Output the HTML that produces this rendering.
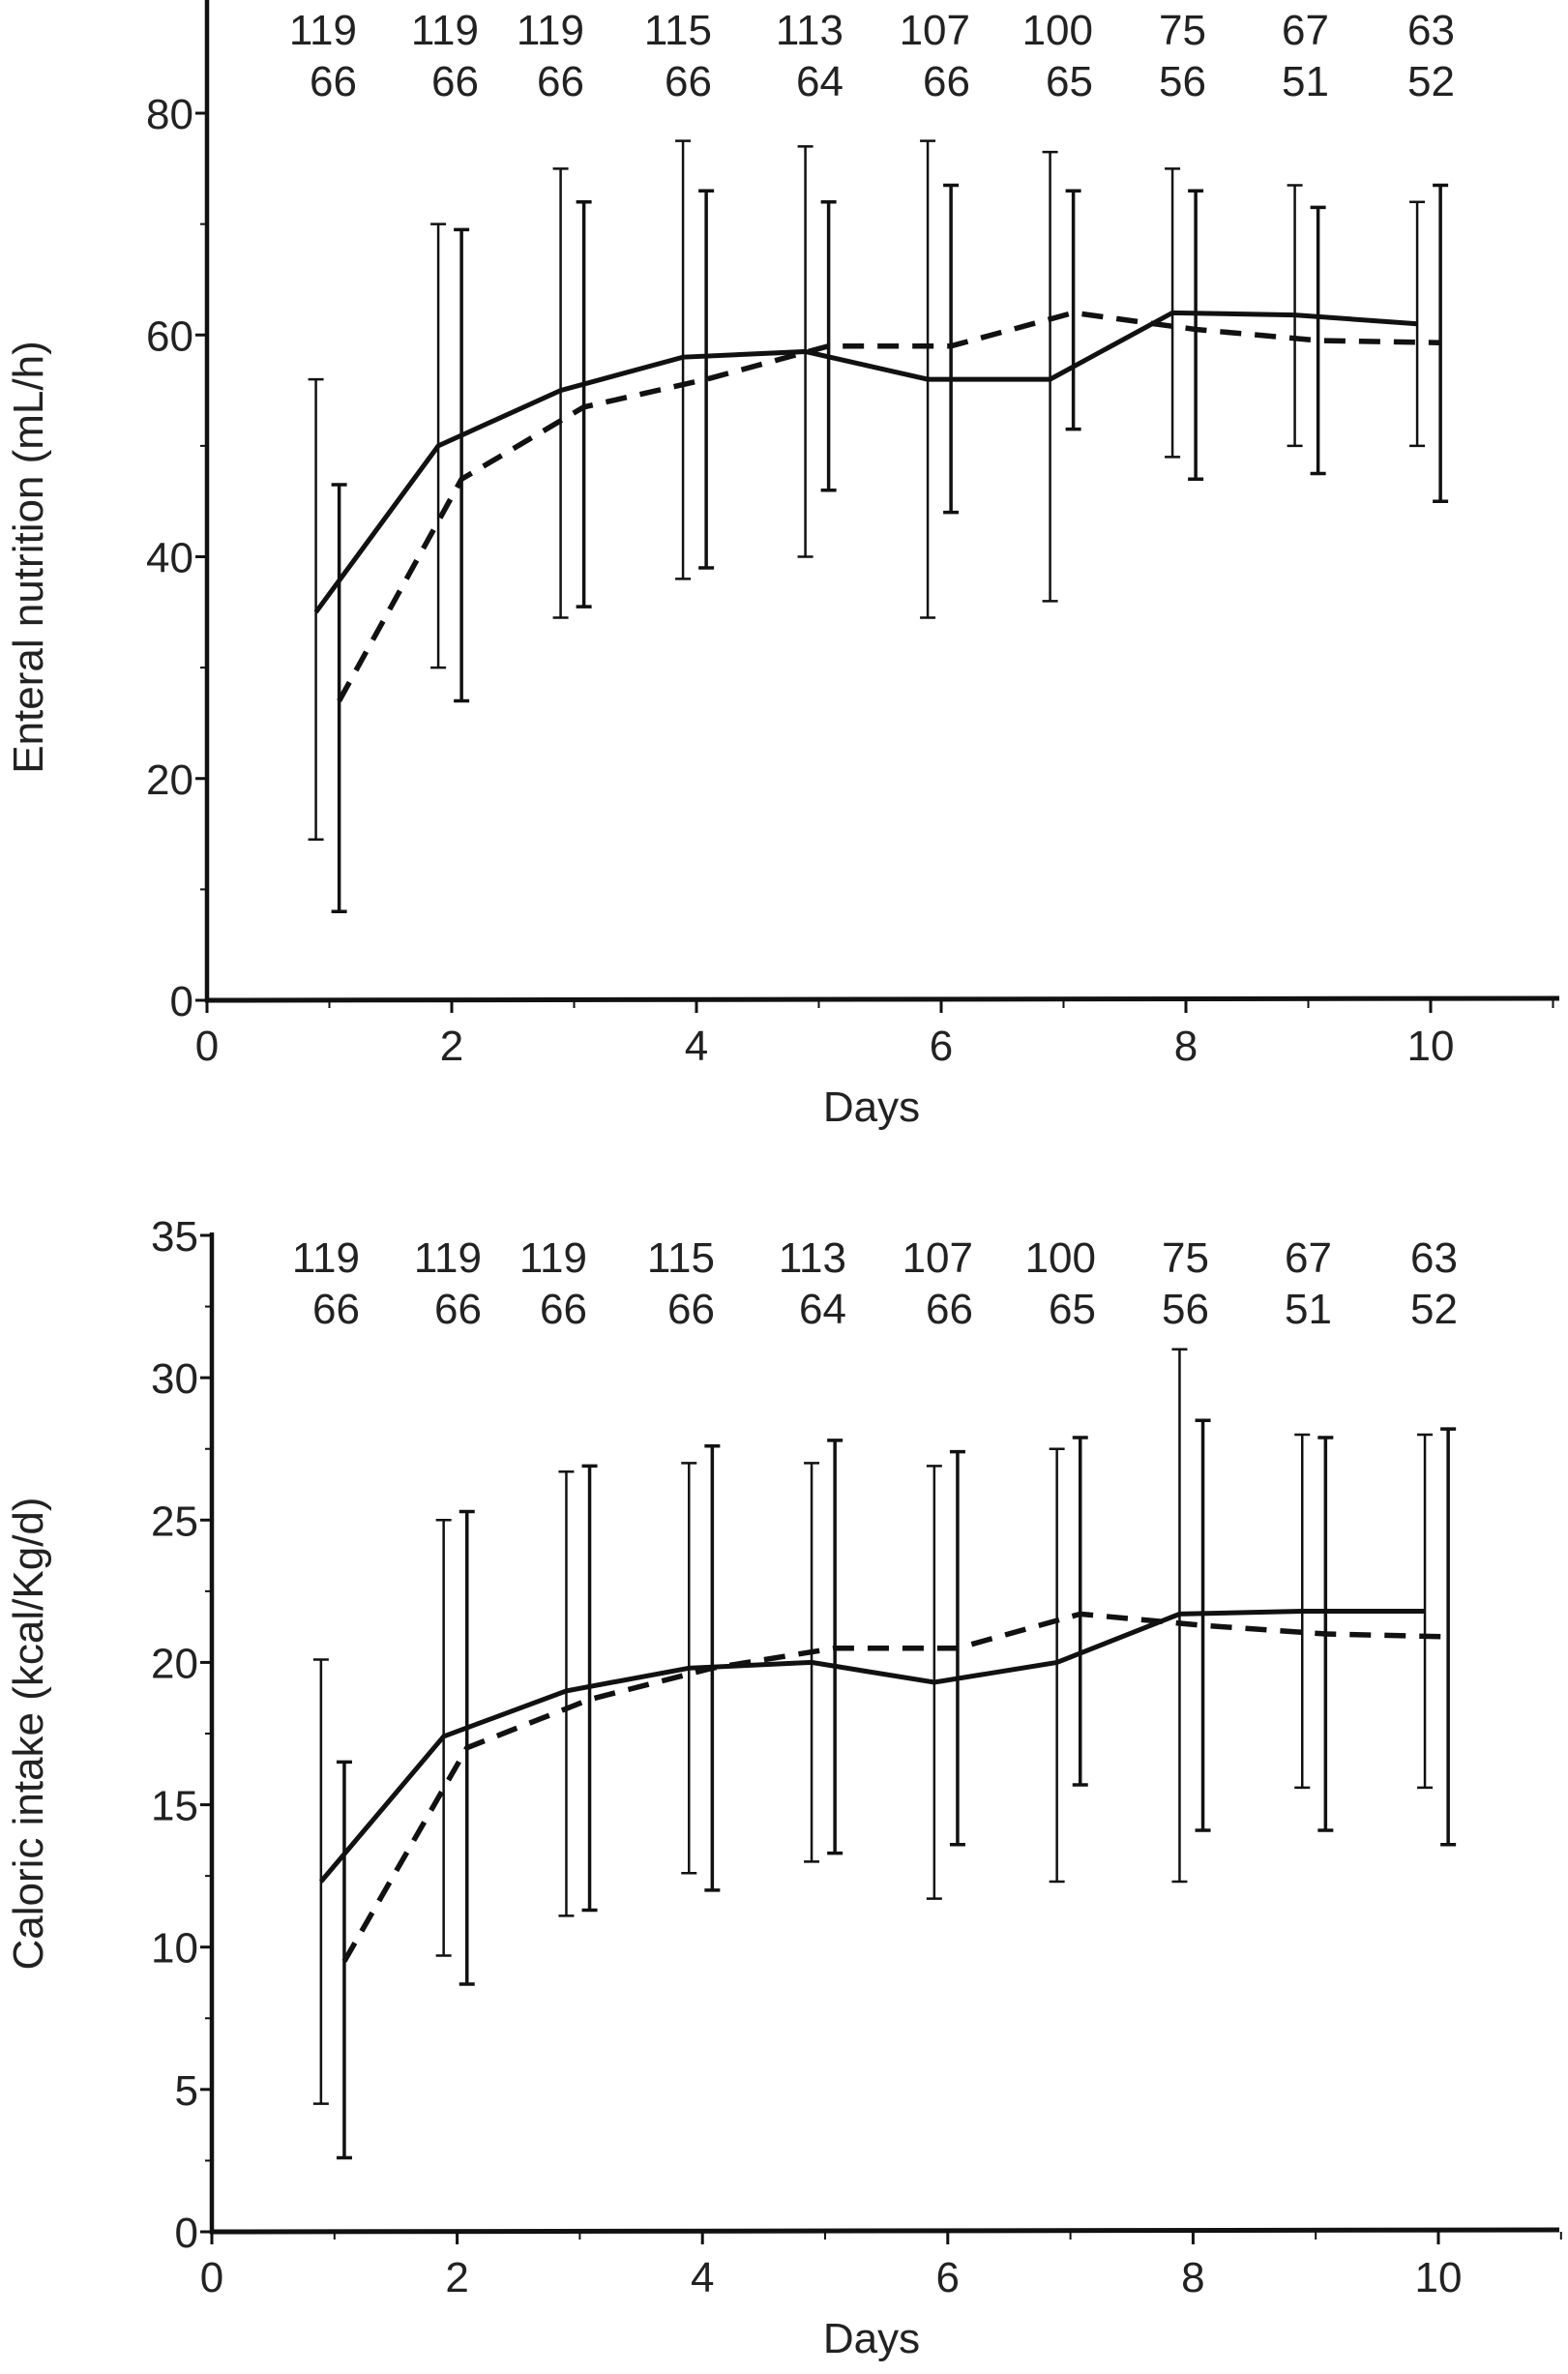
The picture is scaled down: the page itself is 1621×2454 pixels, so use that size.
<!DOCTYPE html>
<html><head><meta charset="utf-8"><style>
html,body{margin:0;padding:0;background:#fff}
svg{display:block}
text{font-family:"Liberation Sans",sans-serif;fill:#222}
</style></head><body>
<svg id="chart" width="1621" height="2454" viewBox="0 0 1621 2454" xmlns="http://www.w3.org/2000/svg"></svg>
<script>
const days = [1,2,3,4,5,6,7,8,9,10];
const nTop = ["119","119","119","115","113","107","100","75","67","63"];
const nBottom = ["66","66","66","66","64","66","65","56","51","52"];
const xTicks = [0,2,4,6,8,10];
const enTicks = [0,20,40,60,80];
const calTicks = [0,5,10,15,20,25,30,35];
// Enteral nutrition (mL/h)
const enSolidMean = [35,50,55,58,58.5,56,56,62,61.8,61];
const enSolidHi = [56,70,75,77.5,77,77.5,76.5,75,73.5,72];
const enSolidLo = [14.5,30,34.5,38,40,34.5,36,49,50,50];
const enDashMean = [27,47,53.5,56,59,59,62,60.5,59.5,59.3];
const enDashHi = [46.5,69.5,72,73,72,73.5,73,73,71.5,73.5];
const enDashLo = [8,27,35.5,39,46,44,51.5,47,47.5,45];
// Caloric intake (kcal/Kg/d)
const calSolidMean = [12.3,17.4,19,19.8,20,19.3,20,21.7,21.8,21.8];
const calSolidHi = [20.1,25,26.7,27,27,26.9,27.5,31,28,28];
const calSolidLo = [4.5,9.7,11.1,12.6,13,11.7,12.3,12.3,15.6,15.6];
const calDashMean = [9.5,17,18.7,19.8,20.5,20.5,21.7,21.3,21,20.9];
const calDashHi = [16.5,25.3,26.9,27.6,27.8,27.4,27.9,28.5,27.9,28.2];
const calDashLo = [2.6,8.7,11.3,12,13.3,13.6,15.7,14.1,14.1,13.6];

const svg = document.getElementById('chart');
const NS = 'http://www.w3.org/2000/svg';
function mk(tag, attrs, parent){const e=document.createElementNS(NS,tag);for(const k in attrs)e.setAttribute(k,attrs[k]);parent.appendChild(e);return e;}
const FS = 44;

function panel(cfg){
  const g = mk('g',{},svg);
  
  
  const X = d => cfg.x0 + d*cfg.dx;
  const Y = v => cfg.y0 - (v/cfg.ymax)*(cfg.y0-cfg.ytop);
  const ya = mk('line',{x1:cfg.x0,y1:cfg.axTop,x2:cfg.x0,y2:cfg.y0+2,stroke:'#111','stroke-width':4.5},g);
  
  
  const xa = mk('line',{x1:cfg.x0-2,y1:cfg.y0,x2:1612,y2:cfg.y0-2,stroke:'#111','stroke-width':5},g);
  
  
  cfg.yTicks.forEach(v=>{
    mk('line',{x1:cfg.x0-12,y1:Y(v),x2:cfg.x0,y2:Y(v),stroke:'#111','stroke-width':3},g);
    const t = mk('text',{x:cfg.x0-14,y:Y(v)+16,'text-anchor':'end','font-size':FS},g);
    t.textContent = v;
    
    
  });
  for(let v=cfg.minor; v<cfg.ymax+cfg.minor; v+=cfg.minor*2){
    mk('line',{x1:cfg.x0-7,y1:Y(v),x2:cfg.x0,y2:Y(v),stroke:'#111','stroke-width':2},g);
  }
  for(let d=1; d<=11; d+=2) mk('line',{x1:X(d),y1:cfg.y0,x2:X(d),y2:cfg.y0+8,stroke:'#111','stroke-width':2},g);
  xTicks.forEach(d=>{
    mk('line',{x1:X(d),y1:cfg.y0,x2:X(d),y2:cfg.y0+13,stroke:'#111','stroke-width':3},g);
    const t = mk('text',{x:X(d),y:cfg.y0+62,'text-anchor':'middle','font-size':FS},g);
    t.textContent = d;
    
    
  });
  const xt = mk('text',{x:901,y:cfg.y0+125,'text-anchor':'middle','font-size':FS},g);
  xt.textContent = 'Days';
  
  
  const yt = mk('text',{x:0,y:0,'text-anchor':'middle','font-size':FS,transform:`translate(44,${cfg.ytitleY}) rotate(-90)`},g);
  yt.textContent = cfg.ytitle;
  
  
  days.forEach((d,i)=>{
    const t1 = mk('text',{x:cfg.nRight[i],y:cfg.nY1,'text-anchor':'end','font-size':FS},g);
    t1.textContent = nTop[i];
    
    
    const t2 = mk('text',{x:cfg.nRight[i],y:cfg.nY1+53,'text-anchor':'end','font-size':FS},g);
    t2.textContent = nBottom[i];
    
    
  });
  function series(mean,hi,lo,off,dash,name){
    days.forEach((d,i)=>{
      const x = X(d+off);
      const eb = mk('path',{d:`M${x},${Y(lo[i])}V${Y(hi[i])}M${x-8},${Y(hi[i])}H${x+8}M${x-8},${Y(lo[i])}H${x+8}`,stroke:'#111','stroke-width':dash?3.5:2.5,fill:'none'},g);
      
      
    });
    const p = mk('polyline',{points:days.map((d,i)=>X(d+off)+','+Y(mean[i])).join(' '),fill:'none',stroke:'#111','stroke-width':dash?5.5:5},g);
    if(dash) p.setAttribute('stroke-dasharray','22 14');
    
    
  }
  series(cfg.sm,cfg.sh,cfg.sl,-0.11,false,'solid-series');
  series(cfg.dm,cfg.dh,cfg.dl,0.08,true,'dashed-series');
}
const nRight=[369,495,604,736,872,1003,1130,1247,1374,1504];
panel({name:'enteral-nutrition-panel',x0:214,dx:126.5,y0:1034,ytop:117,ymax:80,axTop:0,yTicks:enTicks,minor:10,
  ytitle:'Enteral nutrition (mL/h)',ytitleY:576,nRight:nRight,nY1:46,
  sm:enSolidMean,sh:enSolidHi,sl:enSolidLo,dm:enDashMean,dh:enDashHi,dl:enDashLo});
panel({name:'caloric-intake-panel',x0:219,dx:126.8,y0:2307,ytop:1277,ymax:35,axTop:1274,yTicks:calTicks,minor:2.5,
  ytitle:'Caloric intake (kcal/Kg/d)',ytitleY:1792,nRight:nRight.map(v=>v+3),nY1:1315,
  sm:calSolidMean,sh:calSolidHi,sl:calSolidLo,dm:calDashMean,dh:calDashHi,dl:calDashLo});
</script>
</body></html>
